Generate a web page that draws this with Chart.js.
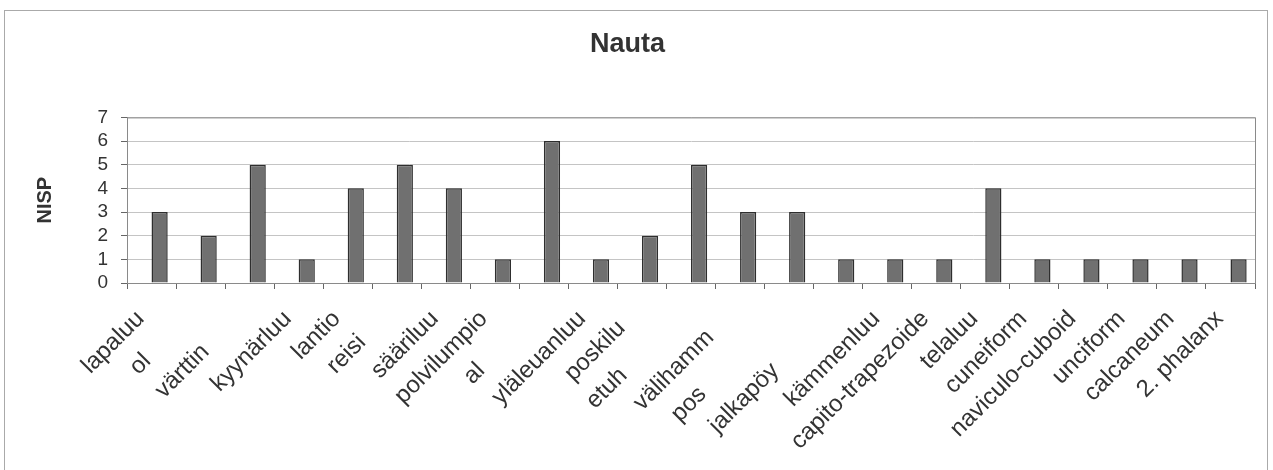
<!DOCTYPE html>
<html>
<head>
<meta charset="utf-8">
<script src="https://cdn.jsdelivr.net/npm/chart.js@4"></script>
<style>
  html, body { margin: 0; padding: 0; background: #fff; }
  #wrap { position: relative; width: 1273px; height: 470px; overflow: hidden; }
  #frame { position: absolute; left: 4px; top: 10px; width: 1264px; height: 480px; border: 1px solid #aaa; box-sizing: border-box; }
  canvas { position: absolute; left: 0; top: 0; }
</style>
</head>
<body>
<div id="wrap">
  <div id="frame"></div>
  <canvas id="nauta-chart" width="1273" height="470"></canvas>
</div>
<script>
// bone elements (full names) and the part of each name the axis actually shows
const boneNames = [
  'lapaluu', 'olkaluu', 'värttinäluu', 'kyynärluu', 'lantio', 'reisiluu',
  'sääriluu', 'polvilumpio', 'alaleuka', 'yläleuanluu', 'poskiluu', 'etuhammas',
  'välihammas', 'poskihammas', 'jalkapöydänluu', 'kämmenluu', 'capito-trapezoide',
  'telaluu', 'cuneiform', 'naviculo-cuboid', 'unciform', 'calcaneum', '2. phalanx'
];
const tickLabels = [
  'lapaluu', 'ol', 'värttin', 'kyynärluu', 'lantio', 'reisi',
  'sääriluu', 'polvilumpio', 'al', 'yläleuanluu', 'poskilu', 'etuh',
  'välihamm', 'pos', 'jalkapöy', 'kämmenluu', 'capito-trapezoide',
  'telaluu', 'cuneiform', 'naviculo-cuboid', 'unciform', 'calcaneum', '2. phalanx'
];
const nispCounts = [3, 2, 5, 1, 4, 5, 4, 1, 6, 1, 2, 5, 3, 3, 1, 1, 1, 4, 1, 1, 1, 1, 1];
const yMax = 7;

const FONT = '"Liberation Sans", Arial, sans-serif';
const LABEL_SIZE = 24;

// clipped labels keep their place: the hidden tail is replaced by blank space
const measureCtx = document.createElement('canvas').getContext('2d');
measureCtx.font = LABEL_SIZE + 'px ' + FONT;
function clippedLabel(i) {
  const full = boneNames[i], shown = tickLabels[i];
  if (full === shown) return shown;
  const hidden = measureCtx.measureText(full).width - measureCtx.measureText(shown).width;
  const pad = Math.round(hidden / measureCtx.measureText('\u00a0').width);
  return shown + '\u00a0'.repeat(pad);
}

const plotBorder = {
  id: 'plotBorder',
  beforeDatasetsDraw(chart) {
    const { ctx, chartArea: a } = chart;
    ctx.save();
    ctx.strokeStyle = '#8a8a8a';
    ctx.lineWidth = 1;
    ctx.strokeRect(a.left + 0.5, a.top + 0.5, a.right - a.left, a.bottom - a.top);
    ctx.restore();
  }
};

new Chart(
  document.getElementById('nauta-chart'),
  {
    type: 'bar',
    data: {
      labels: boneNames,
      datasets: [
        // the sheet had an empty first series, which pushes the bars right of centre
        { label: '', data: [] },
        {
          label: 'NISP',
          data: nispCounts,
          backgroundColor: '#707070',
          borderColor: '#2e2e2e',
          borderWidth: 1.5
        }
      ]
    },
    options: {
      responsive: false,
      animation: false,
      categoryPercentage: 0.66,
      barPercentage: 1,
      layout: { padding: { left: 0, right: 18, top: 0, bottom: 0 } },
      plugins: {
        legend: { display: false },
        tooltip: { enabled: false },
        title: {
          display: true,
          text: 'Nauta',
          color: '#333',
          font: { family: FONT, size: 27, weight: 'bold' },
          padding: { top: 28, bottom: 57 }
        }
      },
      scales: {
        x: {
          grid: { offset: true, drawOnChartArea: false, tickLength: 6, tickColor: '#666' },
          border: { color: '#888' },
          ticks: {
            autoSkip: false,
            minRotation: 45,
            maxRotation: 45,
            labelOffset: -11,
            padding: 16,
            color: '#333',
            font: { family: FONT, size: LABEL_SIZE },
            callback: (value, i) => clippedLabel(i)
          },
          afterFit: scale => { scale.height = 187; }
        },
        y: {
          min: 0,
          max: yMax,
          ticks: { stepSize: 1, autoSkip: false, padding: 13, color: '#333', font: { family: FONT, size: 19 } },
          grid: { color: '#c4c4c4', tickLength: 6, tickColor: '#666' },
          border: { color: '#888' },
          title: {
            display: true,
            text: 'NISP',
            color: '#333',
            font: { family: FONT, size: 20, weight: 'bold' },
            padding: { top: 33, bottom: 0 }
          },
          afterFit: scale => { scale.width = 127; }
        }
      }
    },
    plugins: [plotBorder]
  }
);
</script>
</body>
</html>
